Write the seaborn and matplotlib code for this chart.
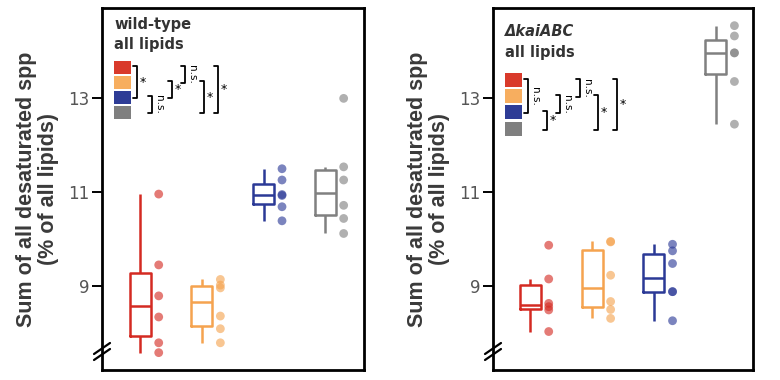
import numpy as np
import pandas as pd
import matplotlib
matplotlib.use("Agg")
import matplotlib.pyplot as plt
import seaborn as sns
from matplotlib.lines import Line2D
from matplotlib.patches import Rectangle

# ---------------- data ----------------
groups = ["c1", "c2", "c3", "c4"]
box_colors = ["#d42a22", "#f5a34f", "#2b3996", "#808080"]
square_colors = ["#d93a2b", "#f7ae5f", "#2e3c96", "#7f7f7f"]

wt_red = [7.58, 7.79, 8.34, 8.79, 9.45, 10.96]
wt_orange = [7.79, 8.09, 8.36, 8.96, 9.02, 9.14]
wt_blue = [10.39, 10.69, 10.93, 10.95, 11.26, 11.50]
wt_gray = [10.12, 10.44, 10.72, 11.26, 11.54, 13.00]

kai_red = [8.03, 8.49, 8.56, 8.63, 9.15, 9.87]
kai_orange = [8.31, 8.50, 8.67, 9.23, 9.94, 9.95]
kai_blue = [8.26, 8.88, 8.88, 9.48, 9.75, 9.89]
kai_gray = [12.45, 13.36, 13.97, 13.97, 14.33, 14.55]

yticks = [9, 11, 13]
ylabel = "Sum of all desaturated spp\n(% of all lipids)"

wt_title = ["wild-type", "all lipids"]
kai_title = ["ΔkaiABC", "all lipids"]

# brackets: (row_top, row_bottom, x offset px, label)
wt_brackets = [(0, 2, 35, "*"), (2, 3, 50, "n.s."), (1, 2, 70, "*"),
               (0, 1, 83, "n.s."), (1, 3, 102, "*"), (0, 3, 116, "*")]
kai_brackets = [(0, 2, 35, "n.s."), (2, 3, 54, "*"), (1, 2, 67, "n.s."),
                (0, 1, 87, "n.s."), (1, 3, 105, "*"), (0, 3, 124, "*")]

# ---------------- figure ----------------
sns.set_style("white")
plt.rcParams["font.family"] = ["DejaVu Sans"]

W, H = 780, 380
fig = plt.figure(figsize=(W / 100, H / 100), dpi=100)

panels = [
    dict(values=[wt_red, wt_orange, wt_blue, wt_gray], left=102, width=262,
         title=wt_title, italic=False, title_y=(24, 45), sq_top=52.5, sq_step=15.0,
         sq_h=13, brackets=wt_brackets, xlim=(-0.62, 3.63)),
    dict(values=[kai_red, kai_orange, kai_blue, kai_gray], left=493, width=260,
         title=kai_title, italic=True, title_y=(32, 52), sq_top=64.5, sq_step=16.3,
         sq_h=14, brackets=kai_brackets, xlim=(-0.60, 3.60)),
]

top_px, bot_px = 8.3, 370
ax_h = bot_px - top_px

for p in panels:
    ax = fig.add_axes([p["left"] / W, (H - bot_px) / H, p["width"] / W, ax_h / H])
    wpx = p["width"]

    def fr(rx, ry):
        return rx / wpx, 1 - ry / ax_h

    df = pd.DataFrame({
        "group": np.repeat(groups, [len(v) for v in p["values"]]),
        "value": np.concatenate(p["values"]),
    })
    df["xpos"] = df["group"].map({g: i for i, g in enumerate(groups)}) + 0.3

    sns.boxplot(data=df, x="group", y="value", hue="group", order=groups,
                hue_order=groups, palette=box_colors, fill=False, width=0.34,
                showfliers=False, showcaps=False, linewidth=1.8, dodge=False,
                legend=False, ax=ax)
    sns.scatterplot(data=df, x="xpos", y="value", hue="group", hue_order=groups,
                    palette=box_colors, alpha=0.62, s=40, edgecolor="none",
                    legend=False, ax=ax)

    ax.set_xlim(*p["xlim"])
    ax.set_ylim(7.21, 14.92)
    ax.set_xticks([])
    ax.set_yticks(yticks)
    ax.set_xlabel("")
    ax.set_ylabel(ylabel, fontsize=15.5, fontweight="bold", color="#3a3a3a",
                  family="Liberation Sans", labelpad=7, linespacing=1.05)
    ax.tick_params(axis="y", direction="out", length=7, width=1.4, color="black",
                   labelsize=12, labelcolor="#555555", pad=2, left=True)
    for s in ax.spines.values():
        s.set_visible(True)
        s.set_linewidth(2.0)
        s.set_color("black")

    # title text
    t1, t2 = p["title"]
    x_t, y_t = fr(12, p["title_y"][0] - top_px)
    ax.text(x_t, y_t, t1, transform=ax.transAxes, fontsize=10.5, fontweight="bold",
            fontstyle="italic" if p["italic"] else "normal", color="#333333",
            va="center", ha="left")
    x_t, y_t = fr(12, p["title_y"][1] - top_px)
    ax.text(x_t, y_t, t2, transform=ax.transAxes, fontsize=10.5, fontweight="bold",
            color="#333333", va="center", ha="left")

    # colour squares
    row_c = []
    for i, c in enumerate(square_colors):
        ytop = p["sq_top"] + p["sq_step"] * i
        x0, y0 = fr(12, ytop + p["sq_h"])
        ax.add_patch(Rectangle((x0, y0), 17 / wpx, p["sq_h"] / ax_h,
                               transform=ax.transAxes, facecolor=c,
                               edgecolor="none", clip_on=False))
        row_c.append(ytop + p["sq_h"] / 2)

    # brackets
    for r0, r1, bx, lab in p["brackets"]:
        ya, yb = row_c[r0] - 1, row_c[r1] + 1
        xs = [bx - 4, bx, bx, bx - 4]
        ys = [ya, ya, yb, yb]
        pts = [fr(x, y) for x, y in zip(xs, ys)]
        ax.add_line(Line2D([q[0] for q in pts], [q[1] for q in pts],
                           transform=ax.transAxes, color="black", lw=1.3,
                           clip_on=False))
        ym = (ya + yb) / 2
        if lab == "*":
            lx, ly = fr(bx + 2.5, ym)
            ax.text(lx, ly, "*", transform=ax.transAxes, fontsize=9,
                    ha="left", va="center", color="black")
        else:
            lx, ly = fr(bx + 2, ym)
            ax.text(lx, ly, lab, transform=ax.transAxes, fontsize=7.5,
                    rotation=-90, ha="left", va="center", color="black")

    # axis break marks
    for dy in (0, 6):
        a = fr(-8, 354 - top_px + dy)
        b = fr(8, 343 - top_px + dy)
        ax.add_line(Line2D([a[0], b[0]], [a[1], b[1]], transform=ax.transAxes,
                           color="black", lw=1.6, clip_on=False))

fig.savefig("out.png", dpi=100)
